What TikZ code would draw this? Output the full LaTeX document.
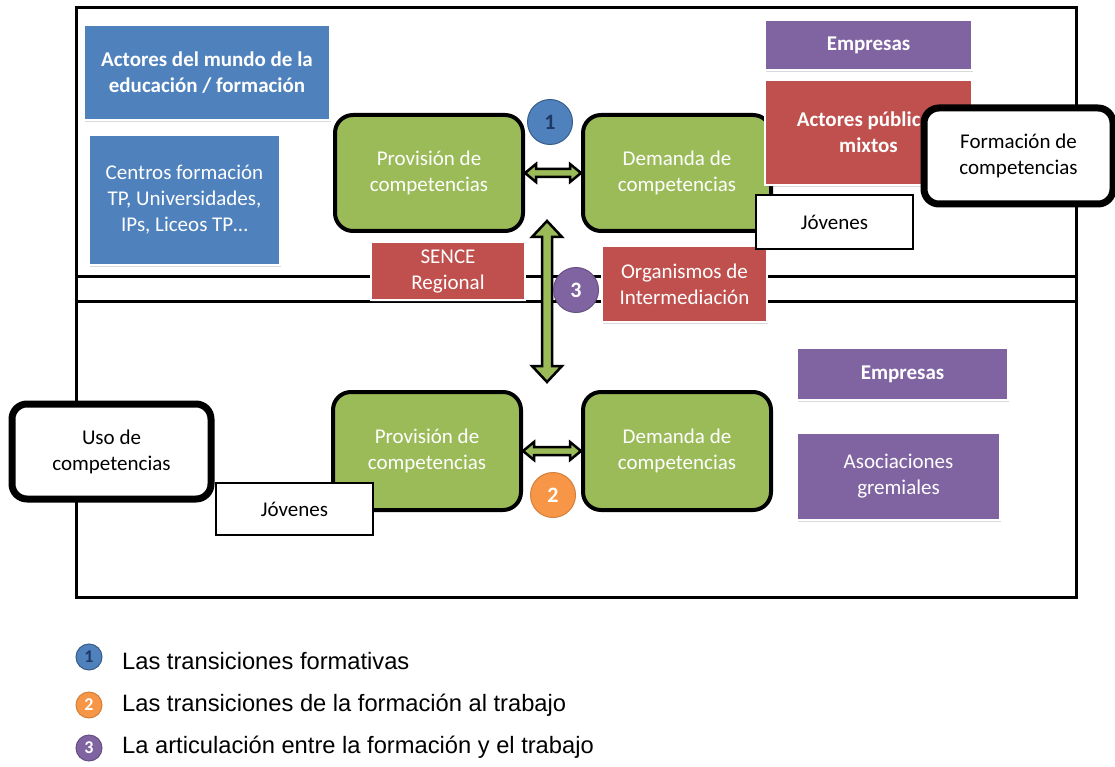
\documentclass[tikz,border=0pt]{standalone}
\usepackage{fontspec}
\setmainfont{Carlito}
\newfontfamily\legendfont{Liberation Sans}
\usetikzlibrary{calc,shadows}
\definecolor{cblue}{HTML}{4F81BD}
\definecolor{cbluedark}{HTML}{385D8A}
\definecolor{cnum}{HTML}{1F3864}
\definecolor{cgreen}{HTML}{9BBB59}
\definecolor{cred}{HTML}{C0504D}
\definecolor{cpurple}{HTML}{8064A2}
\definecolor{corange}{HTML}{F79646}
\newcommand\harrowshape[5]{%
  \draw[darrow] let \p1=(#1), \p2=(#2) in
    (\x1,\y1) -- (\x1+#5,\y1+#4) -- (\x1+#5,\y1+#3) -- (\x2-#5,\y1+#3) -- (\x2-#5,\y1+#4)
    -- (\x2,\y1) -- (\x2-#5,\y1-#4) -- (\x2-#5,\y1-#3) -- (\x1+#5,\y1-#3) -- (\x1+#5,\y1-#4) -- cycle;}
\newcommand\varrowshape[5]{%
  \draw[darrow] let \p1=(#1), \p2=(#2) in
    (\x1,\y1) -- (\x1+#4,\y1-#5) -- (\x1+#3,\y1-#5) -- (\x1+#3,\y2+#5) -- (\x1+#4,\y2+#5)
    -- (\x1,\y2) -- (\x1-#4,\y2+#5) -- (\x1-#3,\y2+#5) -- (\x1-#3,\y1-#5) -- (\x1-#4,\y1-#5) -- cycle;}
\begin{document}
\begin{tikzpicture}[x=1pt,y=-1pt,
  every node/.style={font=\fontsize{21}{26}\selectfont, align=center, inner sep=0pt},
  cbox/.style={rectangle, draw=white, line width=2pt, text=white,
    drop shadow={shadow xshift=1pt, shadow yshift=-2pt, opacity=0.25, fill=black!60}},
  bluebox/.style={cbox, fill=cblue},
  redbox/.style={cbox, fill=cred},
  purplebox/.style={cbox, fill=cpurple},
  greenbox/.style={rectangle, rounded corners=18pt, fill=cgreen, draw=black, line width=4pt,
    text=white, minimum width=188pt, minimum height=116pt},
  whitebox/.style={rectangle, fill=white, draw=black, line width=2pt, minimum width=157pt, minimum height=53pt},
  bigbox/.style={rectangle, rounded corners=15pt, fill=white, draw=black, line width=7pt},
  darrow/.style={fill=cgreen, draw=black, line width=2.5pt, line join=miter},
  numcirc/.style={circle, minimum size=45pt, line width=1pt, font=\fontsize{22}{24}\selectfont\bfseries},
  legcirc/.style={circle, minimum size=26pt, line width=1pt, font=\fontsize{18}{20}\selectfont\bfseries},
  legtext/.style={anchor=west, font=\legendfont\fontsize{23.7}{26}\selectfont}
]
\useasboundingbox (0,0) rectangle (1115,767);
% frames
\draw[line width=3pt] (76,8) rectangle (1076,597);
\draw[line width=3pt] (76,276) -- (1076,276);
\draw[line width=3pt] (76,301) -- (1076,301);
% blue boxes
\node[bluebox, minimum width=246pt, minimum height=95pt, font=\fontsize{21}{26}\selectfont\bfseries] (act) at (207,72.5) {Actores del mundo de la\\educación / formación};
\node[bluebox, minimum width=191pt, minimum height=130pt] (cen) at (184.5,200) {Centros formación\\TP, Universidades,\\IPs, Liceos TP…};
% green boxes
\node[greenbox] (pt) at (429,173) {Provisión de\\competencias};
\node[greenbox] (dt) at (677,173) {Demanda de\\competencias};
\node[greenbox, minimum height=118pt] (pb) at (427,451) {Provisión de\\competencias};
\node[greenbox, minimum height=118pt] (db) at (677,451) {Demanda de\\competencias};
% arrows
\harrowshape{pt.east}{dt.west}{4pt}{9pt}{11pt}
\harrowshape{pb.east}{db.west}{4pt}{9pt}{11pt}
\coordinate (vt) at (547,221);
\coordinate (vb) at (547,382);
\varrowshape{vt}{vb}{5pt}{15pt}{16pt}
% red boxes
\node[redbox, minimum width=154pt, minimum height=58pt] (sence) at (448,271) {SENCE\\Regional};
\node[redbox, minimum width=165pt, minimum height=76pt] (org) at (684.5,284) {Organismos de\\Intermediación};
% circles
\node[numcirc, fill=cblue, draw=cbluedark, text=cnum] (c1) at (550,122) {1};
\node[numcirc, fill=cpurple, draw=cpurple!80!black, text=white] (c3) at (576,290) {3};
\node[numcirc, fill=corange, draw=corange!85!black, text=white] (c2) at (553,495) {2};
% top right
\node[purplebox, minimum width=207pt, minimum height=50pt, font=\fontsize{21}{26}\selectfont\bfseries] (emp1) at (868.5,45) {Empresas};
\node[redbox, minimum width=207pt, minimum height=105pt, font=\fontsize{21}{26}\selectfont\bfseries] (apm) at (868.5,132.5) {Actores públicos\\mixtos};
\node[whitebox, minimum height=54pt] (jov1) at (834.5,222) {Jóvenes};
\node[bigbox, minimum width=189pt, minimum height=96pt] (form) at (1018.5,156) {Formación de\\competencias};
% bottom right
\node[purplebox, minimum width=211pt, minimum height=52pt, font=\fontsize{21}{26}\selectfont\bfseries] (emp2) at (902.5,374) {Empresas};
\node[purplebox, minimum width=203pt, minimum height=87pt] (aso) at (898.5,476.5) {Asociaciones\\gremiales};
% bottom left
\node[whitebox, minimum height=52pt] (jov2) at (294.5,509) {Jóvenes};
\node[bigbox, minimum width=199pt, minimum height=95pt] (uso) at (111.5,451.5) {Uso de\\competencias};
% legend
\node[legcirc, fill=cblue, draw=cbluedark, text=cnum] (l1) at (89,657) {1};
\node[legtext] (t1) at (122,661) {Las transiciones formativas};
\node[legcirc, fill=corange, draw=corange!85!black, text=white] (l2) at (89,705) {2};
\node[legtext] (t2) at (122,705) {Las transiciones de la formación al trabajo};
\node[legcirc, fill=cpurple, draw=cpurple!80!black, text=white] (l3) at (89,748) {3};
\node[legtext] (t3) at (122,747) {La articulación entre la formación y el trabajo};
\end{tikzpicture}
\end{document}
